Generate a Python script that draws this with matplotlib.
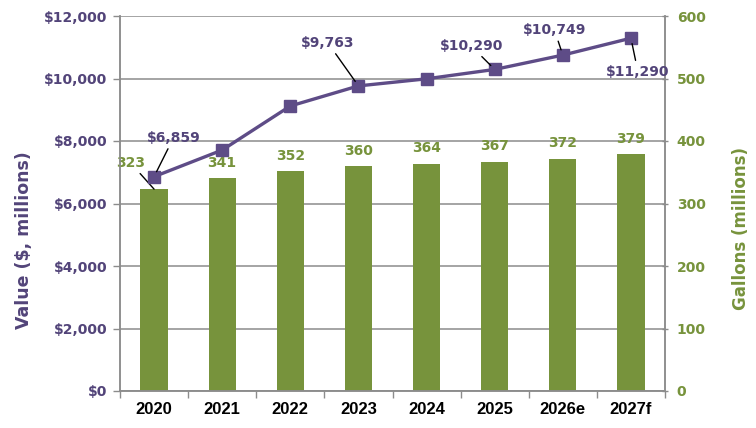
import matplotlib
matplotlib.use("Agg")
import matplotlib.pyplot as plt
import numpy as np

years = ["2020", "2021", "2022", "2023", "2024", "2025", "2026e", "2027f"]
value_musd = [6859, 7710, 9120, 9763, 9990, 10290, 10749, 11290]
gallons_m = [323, 341, 352, 360, 364, 367, 372, 379]
value_labels = ["$6,859", None, None, "$9,763", None, "$10,290", "$10,749", "$11,290"]
# label offsets (points) from the data point
value_label_offsets = [(14, 28), None, None, (-22, 31), None, (-17, 17), (-6, 18), (5, -24)]
left_ticks = [0, 2000, 4000, 6000, 8000, 10000, 12000]
left_ticklabels = ["$0", "$2,000", "$4,000", "$6,000", "$8,000", "$10,000", "$12,000"]
right_ticks = [0, 100, 200, 300, 400, 500, 600]

PURPLE = "#524479"
PURPLE_LINE = "#5e4c87"
GREEN = "#77933c"
GRID = "#8c8c8c"

fig = plt.figure(figsize=(7.56, 4.28), dpi=100)
ax2 = fig.add_axes([120/756, 1-391/428, (665-120)/756, (391-16)/428])
ax1 = ax2.twinx()
# ax1: line (left axis), ax2: bars (right axis)
ax1.yaxis.tick_left()
ax1.yaxis.set_label_position("left")
ax2.yaxis.tick_right()
ax2.yaxis.set_label_position("right")
ax1.set_zorder(ax2.get_zorder() + 1)
ax1.patch.set_visible(False)

x = np.arange(len(years))
ax2.bar(x, gallons_m, width=0.4, color=GREEN, zorder=2)
ax2.set_ylim(0, 600)
ax2.set_yticks(right_ticks)
ax2.grid(axis="y", color=GRID, linewidth=1.1)
ax2.set_axisbelow(True)
ax2.set_xlim(-0.5, len(years) - 0.5)

ax1.plot(x, value_musd, color=PURPLE_LINE, linewidth=2.4, marker="s",
         markersize=8, zorder=3)
ax1.set_ylim(0, 12000)
ax1.set_yticks(left_ticks)
ax1.set_yticklabels(left_ticklabels)
ax1.set_xlim(-0.5, len(years) - 0.5)

# x ticks
ax2.set_xticks(x)
ax2.set_xticklabels(years)
ax2.set_xticks(np.arange(-0.5, len(years)), minor=True)
ax2.tick_params(axis="x", which="major", length=0, pad=8)
ax2.tick_params(axis="x", which="minor", length=5, color=GRID, width=1)
for lab in ax2.get_xticklabels():
    lab.set_fontfamily("Liberation Sans")
    lab.set_fontweight("bold")
    lab.set_fontsize(12)
    lab.set_color("black")
ax1.tick_params(axis="x", which="both", length=0, labelbottom=False)

ax1.tick_params(axis="y", length=5, color=GRID, width=1, labelcolor=PURPLE,
                labelsize=10, pad=4)
ax2.tick_params(axis="y", length=5, color=GRID, width=1, labelcolor=GREEN,
                labelsize=10, pad=6, direction="inout")
for lab in ax1.get_yticklabels():
    lab.set_fontweight("bold")
for lab in ax2.get_yticklabels():
    lab.set_fontweight("bold")

for a in (ax1, ax2):
    for s in a.spines.values():
        s.set_color(GRID)
        s.set_linewidth(1.1)
    a.spines["top"].set_visible(False)

ax1.set_ylabel("Value ($, millions)", color=PURPLE, fontsize=12.5, fontweight="bold")
ax1.yaxis.set_label_coords(-87/545, (391-240)/375)
ax2.set_ylabel("Gallons (millions)", color=GREEN, fontsize=12, fontweight="bold",
               rotation=90)
ax2.yaxis.set_label_coords((732-120)/545, (391-229)/375)

# value labels with leader lines
for i, (lab, off) in enumerate(zip(value_labels, value_label_offsets)):
    if lab is None:
        continue
    ax1.annotate(lab, xy=(x[i], value_musd[i]), xytext=off, textcoords="offset points",
                 ha="center", va="center", color=PURPLE, fontsize=10, fontweight="bold",
                 arrowprops=dict(arrowstyle="-", color="black", lw=1,
                                 shrinkA=1, shrinkB=4),
                 zorder=5)

# bar labels
for i, g in enumerate(gallons_m):
    if i == 0:
        ax2.annotate(str(g), xy=(x[i], g), xytext=(-17, 19), textcoords="offset points",
                     ha="center", va="center", color=GREEN, fontsize=10, fontweight="bold",
                     arrowprops=dict(arrowstyle="-", color="black", lw=1,
                                     shrinkA=1, shrinkB=0))
    else:
        ax2.annotate(str(g), xy=(x[i], g), xytext=(0, 11), textcoords="offset points",
                     ha="center", va="center", color=GREEN, fontsize=10, fontweight="bold")

fig.savefig("out.png", dpi=100)
